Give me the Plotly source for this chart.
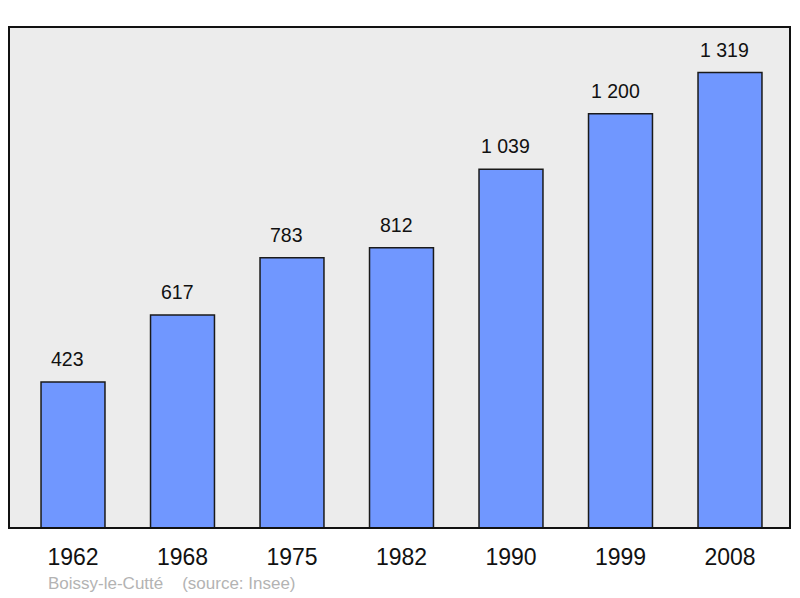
import plotly.graph_objects as go

years = ["1962", "1968", "1975", "1982", "1990", "1999", "2008"]
population = [423, 617, 783, 812, 1039, 1200, 1319]
labels = ["423", "617", "783", "812", "1 039", "1 200", "1 319"]
footer = "Boissy-le-Cutté    (source: Insee)"

xs = list(range(len(years)))
FONT = "Liberation Sans, Arial"

fig = go.Figure()
fig.add_trace(go.Bar(
    x=xs, y=population, width=0.584,
    marker=dict(color="#7097ff", line=dict(color="#1a1a1a", width=1.5)),
    hoverinfo="skip",
))

for x, v, t in zip(xs, population, labels):
    fig.add_annotation(x=x, y=v, text=t, showarrow=False, yanchor="bottom",
                       yshift=10, xshift=-5.5,
                       font=dict(family=FONT, size=19.5, color="#111"))

fig.add_annotation(xref="paper", yref="paper", x=(38 - 1) / 781, y=-(575 - 520) / 501,
                   xanchor="left", yanchor="middle", text=footer, showarrow=False,
                   font=dict(family=FONT, size=17, color="#b3b3b3"))

fig.add_shape(type="rect", xref="paper", yref="paper", x0=0, y0=0, x1=1, y1=1,
              line=dict(color="#111", width=2), layer="above")

fig.update_layout(
    width=792, height=590,
    margin=dict(l=1, r=10, t=19, b=70),
    paper_bgcolor="white", plot_bgcolor="#ececec",
    showlegend=False,
    xaxis=dict(range=[-0.5845, 6.548], tickvals=xs, ticktext=years,
               tickfont=dict(family=FONT, size=23, color="#111"),
               showgrid=False, zeroline=False, ticks="outside", ticklen=8,
               tickcolor="rgba(0,0,0,0)", fixedrange=True),
    yaxis=dict(range=[0, 1451], showticklabels=False, showgrid=False, zeroline=False,
               fixedrange=True),
)

fig.write_html("out.html")
